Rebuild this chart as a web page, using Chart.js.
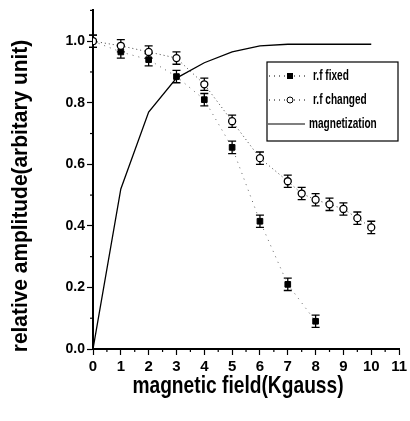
<!DOCTYPE html>
<html><head><meta charset="utf-8">
<script src="https://cdn.jsdelivr.net/npm/chart.js@4"></script>
<style>html,body{margin:0;padding:0;background:#fff}#wrap{width:410px;height:421px}</style>
</head><body><div id="wrap"><canvas id="c" width="410" height="421"></canvas></div>
<script>
const fieldFixed=[0,1,2,3,4,5,6,7,8];
const ampFixed=[1.0,0.965,0.94,0.885,0.81,0.655,0.415,0.21,0.09];
const errFixed=[0.02,0.02,0.02,0.02,0.02,0.02,0.02,0.02,0.02];
const fieldChanged=[0,1,2,3,4,5,6,7,7.5,8,8.5,9,9.5,10];
const ampChanged=[1.0,0.985,0.965,0.945,0.86,0.74,0.62,0.545,0.505,0.485,0.47,0.455,0.425,0.395];
const errChanged=[0.02,0.02,0.02,0.02,0.02,0.02,0.02,0.02,0.02,0.02,0.02,0.02,0.02,0.02];
const fieldMag=[0,1,2,3,4,5,6,7,8,9,10];
const magnetization=[0,0.52,0.77,0.88,0.93,0.965,0.985,0.99,0.99,0.99,0.99];
const xTicks=[0,1,2,3,4,5,6,7,8,9,10,11];
const yTicks=[0,0.2,0.4,0.6,0.8,1.0];
const seriesNames=['r.f fixed','r.f changed','magnetization'];
const xTitle='magnetic field(Kgauss)';
const yTitle='relative amplitude(arbitary unit)';

const FONT='"Liberation Sans",Arial,sans-serif';
const pts=(xs,ys)=>xs.map((x,i)=>({x:x,y:ys[i]}));

function condensed(ctx,text,x,y,sx){ctx.save();ctx.translate(x,y);ctx.scale(sx,1);ctx.fillText(text,0,0);ctx.restore();}

const errorBars={id:'errorBars',beforeDatasetsDraw(chart){
  const ctx=chart.ctx,xs=chart.scales.x,ys=chart.scales.y;
  const sets=[[fieldFixed,ampFixed,errFixed],[fieldChanged,ampChanged,errChanged]];
  ctx.save();ctx.strokeStyle='#000';ctx.lineWidth=1.3;
  sets.forEach(([fx,fy,fe])=>{fx.forEach((x,i)=>{
    const px=xs.getPixelForValue(x),t=ys.getPixelForValue(fy[i]+fe[i]),b=ys.getPixelForValue(fy[i]-fe[i]);
    ctx.beginPath();ctx.moveTo(px,t);ctx.lineTo(px,b);
    ctx.moveTo(px-4,t);ctx.lineTo(px+4,t);ctx.moveTo(px-4,b);ctx.lineTo(px+4,b);ctx.stroke();
  });});
  ctx.restore();
}};

const extras={id:'extras',afterDraw(chart){
  const ctx=chart.ctx,xs=chart.scales.x,ys=chart.scales.y,ca=chart.chartArea;
  ctx.save();ctx.strokeStyle='#000';ctx.lineWidth=1.2;
  for(let v=0.5;v<11;v+=1){const p=xs.getPixelForValue(v);ctx.beginPath();ctx.moveTo(p,ca.bottom);ctx.lineTo(p,ca.bottom+3);ctx.stroke();}
  for(let v=0.1;v<1.1;v+=0.2){const p=ys.getPixelForValue(v);ctx.beginPath();ctx.moveTo(ca.left,p);ctx.lineTo(ca.left-3,p);ctx.stroke();}
  ctx.fillStyle='#000';ctx.textAlign='center';ctx.textBaseline='middle';
  ctx.font='bold 24px '+FONT;
  condensed(ctx,xTitle,238,386,0.8);
  ctx.save();ctx.translate(21,196);ctx.rotate(-Math.PI/2);ctx.scale(0.95,1);ctx.font='bold 22px '+FONT;ctx.fillText(yTitle,0,0);ctx.restore();
  const L=267, T=62, R=398, B=141;
  ctx.lineWidth=1.2;ctx.strokeRect(L,T,R-L,B-T);
  ctx.font='bold 14px '+FONT;ctx.textAlign='left';
  const rows=[76,100,124];
  ctx.setLineDash([1,4]);ctx.lineWidth=1;ctx.beginPath();ctx.moveTo(L+2,rows[0]);ctx.lineTo(L+38,rows[0]);ctx.stroke();
  ctx.beginPath();ctx.moveTo(L+2,rows[1]);ctx.lineTo(L+38,rows[1]);ctx.stroke();ctx.setLineDash([]);
  ctx.fillRect(L+20,rows[0]-3,6,6);
  ctx.fillStyle='#fff';ctx.beginPath();ctx.arc(L+23,rows[1],3,0,Math.PI*2);ctx.fill();ctx.stroke();ctx.fillStyle='#000';
  ctx.lineWidth=1.2;ctx.beginPath();ctx.moveTo(L+1,rows[2]);ctx.lineTo(L+38,rows[2]);ctx.stroke();
  condensed(ctx,seriesNames[0],L+46,rows[0],0.72);
  condensed(ctx,seriesNames[1],L+46,rows[1],0.72);
  condensed(ctx,seriesNames[2],L+42,rows[2],0.72);
  ctx.restore();
}};

new Chart(document.getElementById('c'),{
  type:'scatter',
  data:{datasets:[
    {label:seriesNames[2],data:pts(fieldMag,magnetization),showLine:true,borderColor:'#000',borderWidth:1.3,pointRadius:0,tension:0,order:3},
    {label:seriesNames[0],data:pts(fieldFixed,ampFixed),showLine:true,borderColor:'#666',borderWidth:1,borderDash:[1,5],pointStyle:'rect',pointRadius:4,pointBackgroundColor:'#000',pointBorderColor:'#000',order:2},
    {label:seriesNames[1],data:pts(fieldChanged,ampChanged),showLine:true,borderColor:'#444',borderWidth:1,borderDash:[1,3],pointStyle:'circle',pointRadius:3.5,pointBackgroundColor:'#fff',pointBorderColor:'#000',pointBorderWidth:1.3,order:1}
  ]},
  options:{responsive:false,animation:false,devicePixelRatio:1,
    layout:{padding:{top:9,right:10,left:0,bottom:0}},
    plugins:{legend:{display:false},tooltip:{enabled:false}},
    scales:{
      x:{type:'linear',min:0,max:11,
        afterBuildTicks:s=>{s.ticks=xTicks.map(v=>({value:v}));},
        afterFit:s=>{s.height=72;},
        ticks:{color:'#000',font:{family:FONT,size:15,weight:'bold'},padding:3,maxRotation:0,callback:v=>String(v)},
        grid:{display:true,drawOnChartArea:false,color:'#000',tickLength:6,tickWidth:1.2},
        border:{color:'#000',width:2}},
      y:{type:'linear',min:0,max:1.1,
        afterBuildTicks:s=>{s.ticks=yTicks.map(v=>({value:v}));},
        afterFit:s=>{s.width=93;},
        ticks:{color:'#000',font:{family:FONT,size:14,weight:'bold'},padding:2,callback:v=>Number(v).toFixed(1)},
        grid:{display:true,drawOnChartArea:false,color:'#000',tickLength:6,tickWidth:1.2},
        border:{color:'#000',width:2}}
    }},
  plugins:[errorBars,extras]
});
</script></body></html>
